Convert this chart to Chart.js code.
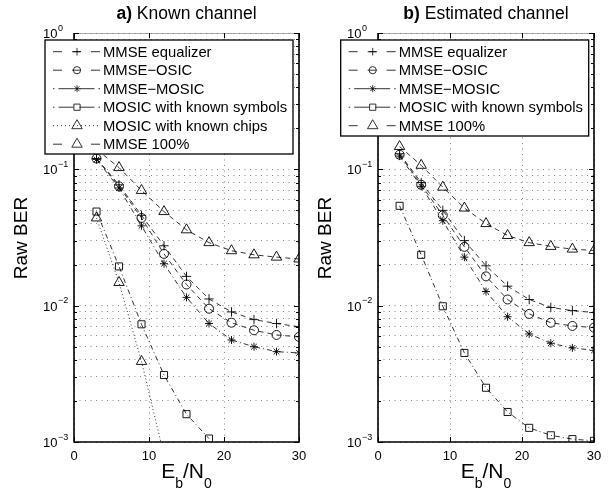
<!DOCTYPE html>
<html>
<head>
<meta charset="utf-8">
<script src="https://cdn.jsdelivr.net/npm/chart.js@4.4.0/dist/chart.umd.min.js"></script>
<style>
  body { margin: 0; background: #fff; }
  #wrap { position: relative; width: 608px; height: 493px; overflow: hidden;
          font-family: 'Liberation Sans', Arial, Helvetica, sans-serif; color: #000; }
  canvas { position: absolute; top: 0; }
  .title { position: absolute; top: 5px; font-size: 17.5px; line-height: 1; text-align: center; white-space: nowrap; }
  .xlab { position: absolute; top: 460px; font-size: 21px; line-height: 1; text-align: center; white-space: nowrap; }
  .xlab span { font-size: 14px; vertical-align: -10px; }
  .ylab { position: absolute; width: 200px; font-size: 19px; line-height: 20px; text-align: center;
          transform: rotate(-90deg); white-space: nowrap; }
</style>
</head>
<body>
<div id="wrap">
  <canvas id="chartA" width="312" height="493" style="left:0"></canvas>
  <canvas id="chartB" width="304" height="493" style="left:304px"></canvas>
  <div class="title" style="left:74px;width:225px"><b>a)</b> Known channel</div>
  <div class="title" style="left:378px;width:216px"><b>b)</b> Estimated channel</div>
  <div class="ylab" style="left:-79px;top:227.5px">Raw BER</div>
  <div class="ylab" style="left:225px;top:227.5px">Raw BER</div>
  <div class="xlab" style="left:74px;width:225px">E<span>b</span>/N<span>0</span></div>
  <div class="xlab" style="left:378px;width:216px">E<span>b</span>/N<span>0</span></div>
</div>
<script>
// Eb/N0 points and axis ticks
const ebn0 = [3, 6, 9, 12, 15, 18, 21, 24, 27, 30];
const xTicks = [0, 10, 20, 30];
const yDecades = [-3, -2, -1, 0];

// a) Known channel
const knownEq     = [0.120, 0.077, 0.046, 0.0275, 0.0164, 0.0112, 0.0090, 0.0079, 0.0074, 0.0070];
const knownOsic   = [0.120, 0.075, 0.044, 0.024, 0.0143, 0.0095, 0.0075, 0.0066, 0.0061, 0.0059];
const knownMosic  = [0.118, 0.073, 0.0385, 0.0203, 0.0115, 0.0074, 0.0056, 0.0050, 0.0046, 0.0045];
const knownSymbols = [0.049, 0.0194, 0.0073, 0.0031, 0.0016, 0.00106];
const knownChips  = [0.044, 0.0148, 0.0039, 0.0008];
const knownM100   = [0.14, 0.103, 0.070, 0.049, 0.036, 0.029, 0.0253, 0.0236, 0.0227, 0.022];

// b) Estimated channel
const estEq      = [0.130, 0.080, 0.050, 0.030, 0.0196, 0.0139, 0.0111, 0.0097, 0.0092, 0.0089];
const estOsic    = [0.128, 0.077, 0.046, 0.027, 0.0164, 0.0111, 0.0087, 0.0075, 0.0071, 0.0069];
const estMosic   = [0.125, 0.075, 0.042, 0.0227, 0.0127, 0.0083, 0.0062, 0.0053, 0.0049, 0.0047];
const estSymbols = [0.054, 0.0236, 0.0099, 0.0045, 0.0025, 0.00166, 0.00127, 0.00112, 0.00105, 0.00102];
const estM100    = [0.147, 0.107, 0.074, 0.052, 0.040, 0.0327, 0.029, 0.0272, 0.026, 0.0254];

const FONT = '"Liberation Sans", Arial, Helvetica, sans-serif';
const DASH = [5, 4], DASHDOT = [5, 3, 1, 3], DOT = [1, 2.5];
const L_DASH = [9, 10, 9, 10, 9], L_DASHDOT = [1.5, 4, 15, 6, 15, 4, 1.5];

// line/marker style per series (MATLAB look)
const styles = {
  'MMSE equalizer':           { dash: DASH,    lDash: L_DASH,    point: 'cross',    r: 4.7, lr: 3.8 },
  'MMSE−OSIC':                { dash: DASH,    lDash: L_DASH,    point: 'circle',   r: 4.5, lr: 3.6 },
  'MMSE−MOSIC':               { dash: DASHDOT, lDash: L_DASHDOT, point: 'star',     r: 4,   lr: 3.5 },
  'MOSIC with known symbols': { dash: DASHDOT, lDash: L_DASHDOT, point: 'rect',     r: 5,   lr: 4.4 },
  'MOSIC with known chips':   { dash: DOT,     lDash: [1, 3],    point: 'triangle', r: 6,   lr: 6 },
  'MMSE 100%':                { dash: DASH,    lDash: [9, 29],   point: 'triangle', r: 6,   lr: 6 }
};

function series(label, values, extra) {
  const st = styles[label];
  return Object.assign({
    label,
    data: values.map((v, i) => ({ x: ebn0[i], y: v })),
    borderColor: '#000', borderWidth: 0.8, borderDash: st.dash,
    pointStyle: st.point, pointRadius: st.r, pointBorderWidth: 0.9,
    pointBorderColor: '#000', pointBackgroundColor: 'rgba(0,0,0,0)',
    fill: false, tension: 0
  }, extra || {});
}

// minor grid values 1..9 x 10^e
const yGrid = [];
yDecades.forEach(e => {
  for (let m = 1; m <= 9; m++) {
    const v = m * Math.pow(10, e);
    if (v <= 1) yGrid.push(v);
  }
});

function legendMarker(ctx, style, r, x, y) {
  ctx.fillStyle = 'rgba(0,0,0,0)';
  if (Chart.helpers && Chart.helpers.drawPoint) {
    Chart.helpers.drawPoint(ctx, { pointStyle: style, radius: r, rotation: 0, borderWidth: 0.9 }, x, y);
  }
}

const matlabAxes = {
  id: 'matlabAxes',
  afterDraw(chart, args, opts) {
    const { ctx, chartArea: a, scales: { x, y } } = chart;
    ctx.save();
    // box
    ctx.strokeStyle = '#000';
    ctx.lineWidth = 1.6;
    ctx.beginPath();
    ctx.moveTo(a.left, a.top); ctx.lineTo(a.left, a.bottom);
    ctx.lineTo(a.right, a.bottom); ctx.lineTo(a.right, a.top);
    ctx.stroke();
    ctx.lineWidth = 0.7; ctx.strokeStyle = '#888';
    ctx.beginPath(); ctx.moveTo(a.left, a.top + 0.5); ctx.lineTo(a.right, a.top + 0.5); ctx.stroke();

    // inward ticks
    ctx.strokeStyle = '#000'; ctx.lineWidth = 1;
    ctx.beginPath();
    xTicks.forEach(v => {
      const px = Math.round(x.getPixelForValue(v)) + 0.5;
      ctx.moveTo(px, a.bottom); ctx.lineTo(px, a.bottom - 5);
      ctx.moveTo(px, a.top); ctx.lineTo(px, a.top + 5);
    });
    yGrid.forEach(v => {
      const py = Math.round(y.getPixelForValue(v)) + 0.5;
      const len = Math.abs(Math.log10(v) - Math.round(Math.log10(v))) < 1e-9 ? 5 : 3;
      ctx.moveTo(a.left, py); ctx.lineTo(a.left + len, py);
      ctx.moveTo(a.right, py); ctx.lineTo(a.right - len, py);
    });
    ctx.stroke();

    // tick labels
    ctx.fillStyle = '#000';
    ctx.textBaseline = 'alphabetic';
    ctx.font = '13px ' + FONT;
    ctx.textAlign = 'center';
    xTicks.forEach(v => ctx.fillText(String(v), x.getPixelForValue(v), 460));
    yDecades.forEach(e => {
      const py = y.getPixelForValue(Math.pow(10, e));
      ctx.font = '13px ' + FONT;
      ctx.textAlign = 'right';
      ctx.fillText('10', a.left - 16.5, py + 5);
      ctx.font = '9px ' + FONT;
      ctx.textAlign = 'left';
      ctx.fillText(e === 0 ? '0' : '−' + (-e), a.left - 16, py - 2.5);
    });

    // legend box (drawn on top, like MATLAB)
    const L = opts.left, T = opts.top, W = opts.width, H = opts.height;
    ctx.fillStyle = '#fff';
    ctx.fillRect(L, T, W, H);
    ctx.lineWidth = 1.3; ctx.strokeStyle = '#000';
    ctx.strokeRect(L, T, W, H);
    chart.data.datasets.forEach((ds, i) => {
      const st = styles[ds.label];
      const cy = T + 11.7 + i * 18.5;
      ctx.strokeStyle = '#000';
      ctx.lineWidth = 0.8;
      ctx.setLineDash(st.lDash);
      ctx.beginPath(); ctx.moveTo(L + 8, cy); ctx.lineTo(L + 55, cy); ctx.stroke();
      ctx.setLineDash([]);
      legendMarker(ctx, st.point, st.lr, L + 32, cy);
      ctx.fillStyle = '#000';
      ctx.font = '14.8px ' + FONT;
      ctx.textAlign = 'left';
      ctx.fillText(ds.label, L + 58, cy + 5.2);
    });
    ctx.restore();
  }
};

function makeChart(id, datasets, rightPad, legend) {
  return new Chart(document.getElementById(id), {
    type: 'line',
    data: { datasets },
    plugins: [matlabAxes],
    options: {
      responsive: false, animation: false, devicePixelRatio: 1,
      layout: { padding: { top: 33, left: 0, right: rightPad, bottom: 0 } },
      plugins: { legend: { display: false }, tooltip: { enabled: false }, title: { display: false },
                 matlabAxes: legend },
      scales: {
        x: {
          type: 'linear', min: 0, max: 30,
          afterBuildTicks: s => { s.ticks = xTicks.map(v => ({ value: v })); },
          afterFit: s => { s.height = 51; },
          ticks: { display: false },
          grid: { color: '#666', lineWidth: 0.8, drawTicks: false },
          border: { display: false, dash: [1, 4.5] }
        },
        y: {
          type: 'logarithmic', min: 0.001, max: 1,
          afterBuildTicks: s => { s.ticks = yGrid.map(v => ({ value: v })); },
          afterFit: s => { s.width = 74; },
          ticks: { display: false },
          grid: { color: '#666', lineWidth: 0.8, drawTicks: false },
          border: { display: false, dash: [1, 4.5] }
        }
      }
    }
  });
}

makeChart('chartA', [
  series('MMSE equalizer', knownEq),
  series('MMSE−OSIC', knownOsic),
  series('MMSE−MOSIC', knownMosic),
  series('MOSIC with known symbols', knownSymbols),
  series('MOSIC with known chips', knownChips, { clip: { left: 8, right: 8, top: 8, bottom: 0 } }),
  series('MMSE 100%', knownM100)
], 13, { left: 45, top: 40, width: 248, height: 114 });

makeChart('chartB', [
  series('MMSE equalizer', estEq),
  series('MMSE−OSIC', estOsic),
  series('MMSE−MOSIC', estMosic),
  series('MOSIC with known symbols', estSymbols),
  series('MMSE 100%', estM100)
], 14, { left: 36.7, top: 40, width: 248, height: 96 });
</script>
</body>
</html>
